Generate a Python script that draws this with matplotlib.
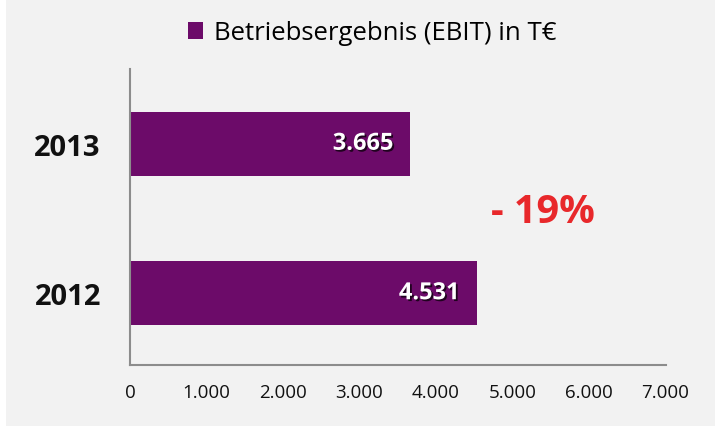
import matplotlib.pyplot as plt
import matplotlib.patheffects as pe
from matplotlib.patches import Rectangle

years = ['2012', '2013']
ebit = [4531, 3665]
value_labels = ['4.531', '3.665']
xticks = [0, 1000, 2000, 3000, 4000, 5000, 6000, 7000]
xtick_labels = ['0', '1.000', '2.000', '3.000', '4.000', '5.000', '6.000', '7.000']
series_name = 'Betriebsergebnis (EBIT) in T€'
change_text = '- 19%'

plt.rcParams['font.family'] = ['Open Sans', 'DejaVu Sans']
bar_color = '#6c0b69'
bg = '#f2f2f2'

fig = plt.figure(figsize=(7.21, 4.27), dpi=100, facecolor='white')
# grauer Hintergrund mit schmalem weissen Rand
fig.patches.append(Rectangle((6 / 721, 0), 709 / 721, 1, transform=fig.transFigure,
                             facecolor=bg, edgecolor='none', zorder=-10))

ax = fig.add_axes([130 / 721, 1 - 366 / 427, (665.5 - 130) / 721, (366 - 70) / 427])
ax.set_facecolor(bg)

bars = ax.barh(years, ebit, height=0.43, color=bar_color, label=series_name)
ax.set_xlim(0, 7000)
ax.set_ylim(-0.48, 1.5)

# Werte in den Balken
for b, lab in zip(bars, value_labels):
    ax.text(b.get_width() - 220, b.get_y() + b.get_height() / 2, lab,
            ha='right', va='center', color='white', fontsize=17, fontweight='bold',
            path_effects=[pe.SimplePatchShadow(offset=(1.3, -1.3), shadow_rgbFace='black', alpha=0.7),
                          pe.Normal()])

ax.set_xticks(xticks)
ax.set_xticklabels(xtick_labels, fontsize=13.5, color='#111111')
ax.tick_params(axis='x', length=0, pad=13)
ax.tick_params(axis='y', length=0, pad=21, labelsize=21)
for t in ax.get_yticklabels():
    t.set_fontweight('bold')
    t.set_color('#111111')

for s in ['top', 'right']:
    ax.spines[s].set_visible(False)
for s in ['left', 'bottom']:
    ax.spines[s].set_color('#8c8c8c')
    ax.spines[s].set_linewidth(1.5)

# Veraenderung
fig.text(543 / 721, 1 - 213 / 427, change_text, ha='center', va='center',
         color='#e8282b', fontsize=28.5, fontweight='bold')

fig.legend(handles=[bars], labels=[series_name], loc='center',
           bbox_to_anchor=(372 / 721, 1 - 34 / 427), frameon=False, fontsize=18.5,
           handlelength=0.6, handleheight=0.6, handletextpad=0.4)

fig.savefig('out.png', dpi=100, facecolor=fig.get_facecolor())
